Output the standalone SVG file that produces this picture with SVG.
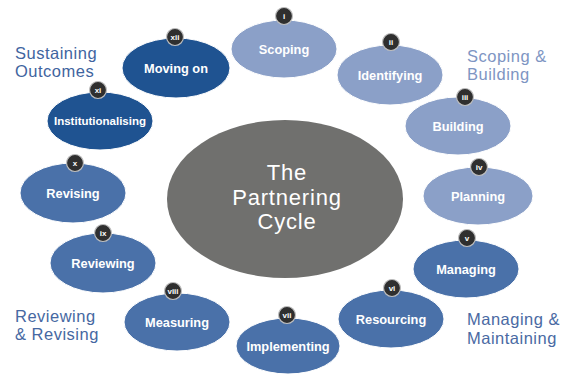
<svg xmlns="http://www.w3.org/2000/svg" width="570" height="375" viewBox="0 0 570 375">
  <style>
    .stage { stroke: #ffffff; stroke-width: 1; }
    .light { fill: #8ba0c8; }
    .mid { fill: #4a71a9; }
    .deep { fill: #1f5391; }
    .hub { fill: #70706e; }
    .badge { fill: #2f2f2f; stroke: #bfbfbf; stroke-width: 1.2; }
    .name { font-family: "Liberation Sans", Arial, sans-serif; font-weight: bold; font-size: 12.8px; fill: #ffffff; text-anchor: middle; }
    .num { font-family: "Liberation Sans", Arial, sans-serif; font-weight: bold; font-size: 8px; fill: #ffffff; text-anchor: middle; }
    .hubtext { font-family: "Liberation Sans", Arial, sans-serif; font-size: 22px; letter-spacing: 0.8px; fill: #ffffff; text-anchor: middle; }
    .phase { font-family: "Liberation Sans", Arial, sans-serif; font-size: 16.5px; letter-spacing: 0.5px; }
  </style>
  <rect width="570" height="375" fill="#ffffff"/>

  <!-- central hub -->
  <g id="hub">
    <ellipse class="hub" cx="285" cy="199" rx="118" ry="79"/>
    <text class="hubtext" x="287" y="180">The</text>
    <text class="hubtext" x="287" y="204.5">Partnering</text>
    <text class="hubtext" x="287" y="229">Cycle</text>
  </g>

  <!-- stages of the cycle -->
  <g id="stage-i">
    <ellipse class="stage light" cx="284" cy="49" rx="53" ry="29"/>
    <text class="name" x="284" y="53.5">Scoping</text>
    <circle class="badge" cx="284" cy="16" r="8.5"/>
    <text class="num" x="284" y="19">i</text>
  </g>
  <g id="stage-ii">
    <ellipse class="stage light" cx="390" cy="75" rx="53" ry="30"/>
    <text class="name" x="390" y="79.5">Identifying</text>
    <circle class="badge" cx="391" cy="42" r="8.5"/>
    <text class="num" x="391" y="45">ii</text>
  </g>
  <g id="stage-iii">
    <ellipse class="stage light" cx="458" cy="126" rx="53" ry="29"/>
    <text class="name" x="458" y="131">Building</text>
    <circle class="badge" cx="465" cy="97" r="8.5"/>
    <text class="num" x="465" y="100">iii</text>
  </g>
  <g id="stage-iv">
    <ellipse class="stage light" cx="478" cy="196" rx="55" ry="29"/>
    <text class="name" x="478" y="201">Planning</text>
    <circle class="badge" cx="479" cy="167" r="8.5"/>
    <text class="num" x="479" y="170">iv</text>
  </g>
  <g id="stage-v">
    <ellipse class="stage mid" cx="466" cy="269" rx="53" ry="29"/>
    <text class="name" x="466" y="273.5">Managing</text>
    <circle class="badge" cx="467" cy="238" r="8.5"/>
    <text class="num" x="467" y="241">v</text>
  </g>
  <g id="stage-vi">
    <ellipse class="stage mid" cx="391" cy="319" rx="53" ry="29"/>
    <text class="name" x="391" y="323.5">Resourcing</text>
    <circle class="badge" cx="392" cy="288" r="8.5"/>
    <text class="num" x="392" y="291">vi</text>
  </g>
  <g id="stage-vii">
    <ellipse class="stage mid" cx="288" cy="346" rx="52" ry="28"/>
    <text class="name" x="288" y="350.5">Implementing</text>
    <circle class="badge" cx="287" cy="315" r="8.5"/>
    <text class="num" x="287" y="318">vii</text>
  </g>
  <g id="stage-viii">
    <ellipse class="stage mid" cx="177" cy="322" rx="53" ry="29"/>
    <text class="name" x="177" y="326.5">Measuring</text>
    <circle class="badge" cx="173" cy="291" r="8.5"/>
    <text class="num" x="173" y="294">viii</text>
  </g>
  <g id="stage-ix">
    <ellipse class="stage mid" cx="103" cy="263" rx="53" ry="30"/>
    <text class="name" x="103" y="267.5">Reviewing</text>
    <circle class="badge" cx="103" cy="233" r="8.5"/>
    <text class="num" x="103" y="236">ix</text>
  </g>
  <g id="stage-x">
    <ellipse class="stage mid" cx="73" cy="193" rx="53" ry="30"/>
    <text class="name" x="73" y="197.5">Revising</text>
    <circle class="badge" cx="75" cy="163" r="8.5"/>
    <text class="num" x="75" y="166">x</text>
  </g>
  <g id="stage-xi">
    <ellipse class="stage deep" cx="100" cy="121" rx="53" ry="29"/>
    <text class="name" x="100" y="125" style="font-size:11.5px">Institutionalising</text>
    <circle class="badge" cx="98" cy="90" r="8.5"/>
    <text class="num" x="98" y="93">xi</text>
  </g>
  <g id="stage-xii">
    <ellipse class="stage deep" cx="176" cy="68" rx="54" ry="30"/>
    <text class="name" x="176" y="72.5">Moving on</text>
    <circle class="badge" cx="175" cy="37" r="8.5"/>
    <text class="num" x="175" y="40">xii</text>
  </g>

  <!-- phase captions -->
  <g id="phase-sustaining">
    <text class="phase" x="15" y="58.5" fill="#3f64a0">Sustaining</text>
    <text class="phase" x="15" y="77" fill="#3f64a0">Outcomes</text>
  </g>
  <g id="phase-scoping">
    <text class="phase" x="467" y="61.5" fill="#7e95c3">Scoping &amp;</text>
    <text class="phase" x="467" y="80" fill="#7e95c3">Building</text>
  </g>
  <g id="phase-reviewing">
    <text class="phase" x="15" y="321.5" fill="#4668a2">Reviewing</text>
    <text class="phase" x="15" y="340" fill="#4668a2">&amp; Revising</text>
  </g>
  <g id="phase-managing">
    <text class="phase" x="467" y="325" fill="#4a6aa3">Managing &amp;</text>
    <text class="phase" x="467" y="343.5" fill="#4a6aa3">Maintaining</text>
  </g>

  <g id="connectors"/>
</svg>
